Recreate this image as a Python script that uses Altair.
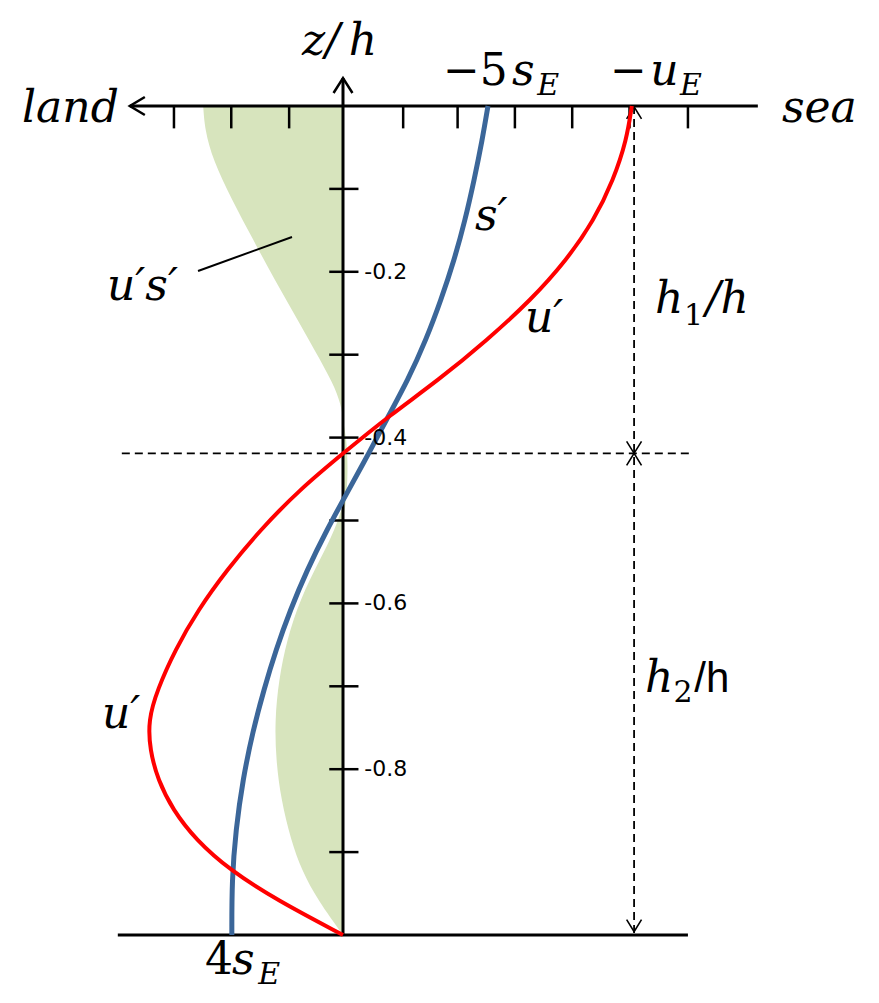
import altair as alt
import pandas as pd

# ---------------- data (chart units) ----------------
# vertical coordinate z/h, horizontal coordinate in tick units (1 unit = 1 tick spacing)
Z_RED = [0, -0.041, -0.089, -0.138, -0.186, -0.234, -0.282, -0.331, -0.373, -0.419,
         -0.463, -0.511, -0.560, -0.608, -0.656, -0.704, -0.741, -0.777, -0.813,
         -0.849, -0.885, -0.922, -0.958, -1.0]
U_RED = [5.04, 4.95, 4.72, 4.38, 3.90, 3.28, 2.52, 1.66, 0.82, 0.0,
         -0.76, -1.44, -2.03, -2.53, -2.93, -3.24, -3.40, -3.37, -3.23,
         -2.97, -2.57, -1.97, -1.15, 0.0]

Z_BLUE = [0, -0.041, -0.089, -0.138, -0.186, -0.234, -0.282, -0.331, -0.373, -0.419,
          -0.463, -0.511, -0.560, -0.608, -0.656, -0.704, -0.753, -0.813, -0.873,
          -0.934, -1.0]
S_BLUE = [2.53, 2.43, 2.29, 2.13, 1.94, 1.71, 1.45, 1.13, 0.80, 0.45,
          0.10, -0.28, -0.63, -0.92, -1.17, -1.38, -1.57, -1.75, -1.87,
          -1.94, -1.94]

Z_US_UP = [0, -0.029, -0.065, -0.113, -0.161, -0.210, -0.258, -0.306, -0.342, -0.366, -0.378]
X_US_UP = [-2.44, -2.41, -2.27, -1.94, -1.57, -1.19, -0.79, -0.40, -0.12, -0.02, 0.0]

Z_US_MID = [-0.38, -0.40, -0.44, -0.48, -0.50]
X_US_MID = [0.0, 0.06, 0.09, 0.05, 0.0]

Z_US_LOW = [-0.481, -0.511, -0.547, -0.595, -0.644, -0.692, -0.741, -0.789, -0.837,
            -0.885, -0.922, -0.958, -1.0]
X_US_LOW = [0.0, -0.14, -0.40, -0.75, -0.98, -1.12, -1.19, -1.17, -1.08,
            -0.91, -0.72, -0.44, 0.0]

TOP_TICKS = [-2.95, -1.95, -0.94, 1.05, 2.0, 3.0, 4.0, 5.0, 6.02]
Z_TICKS = [-0.1, -0.2, -0.3, -0.4, -0.5, -0.6, -0.7, -0.8, -0.9]
Z_TICK_LABELS = ["-0.2", "-0.4", "-0.6", "-0.8"]
Z_TICK_LABEL_POS = [-0.2, -0.4, -0.6, -0.8]
H1 = 0.419  # interface depth

# ---------------- scales ----------------
XMIN, XMAX = -5.8464, 9.2147
ZMIN, ZMAX = -1.07238, 0.11821
XS = alt.Scale(domain=[XMIN, XMAX], nice=False, zero=False)
YS = alt.Scale(domain=[ZMIN, ZMAX], nice=False, zero=False)


def X(f="x"):
    return alt.X(f"{f}:Q", scale=XS, axis=None)


def Y(f="z"):
    return alt.Y(f"{f}:Q", scale=YS, axis=None)


GREEN = "#D7E4BD"
RED = "#FF0000"
BLUE = "#3B6699"

# ---------------- shaded u's' areas ----------------
def area_df(zs, xs):
    return pd.DataFrame({"z": zs, "x": xs, "x0": [0.0] * len(zs)})


areas = [
    alt.Chart(area_df(zs, xs)).mark_area(orient="horizontal", interpolate="basis",
                                          color=GREEN, opacity=1)
    .encode(y=Y(), x=X(), x2="x0:Q")
    for zs, xs in [(Z_US_UP, X_US_UP), (Z_US_MID, X_US_MID), (Z_US_LOW, X_US_LOW)]
]

# ---------------- axes, ticks, dimension lines ----------------
axes_df = pd.DataFrame({
    "x": [-3.72, -3.93, 0.0],
    "x2": [7.24, 6.02, 0.0],
    "z": [0.0, -1.0, -1.0],
    "z2": [0.0, -1.0, 0.0338],
})
axes = alt.Chart(axes_df).mark_rule(color="black", strokeWidth=3).encode(
    x=X(), x2="x2:Q", y=Y(), y2="z2:Q")

tick_rows = [{"x": t, "x2": t, "z": 0.0, "z2": -0.027} for t in TOP_TICKS]
tick_rows += [{"x": -0.24, "x2": 0.27, "z": z, "z2": z} for z in Z_TICKS]
ticks = alt.Chart(pd.DataFrame(tick_rows)).mark_rule(color="black", strokeWidth=2.5).encode(
    x=X(), x2="x2:Q", y=Y(), y2="z2:Q")

leader = alt.Chart(pd.DataFrame({"x": [-2.53], "x2": [-0.89], "z": [-0.199], "z2": [-0.158]})) \
    .mark_rule(color="black", strokeWidth=2).encode(x=X(), x2="x2:Q", y=Y(), y2="z2:Q")

dash_df = pd.DataFrame({
    "x": [-3.86, 5.08],
    "x2": [6.11, 5.08],
    "z": [-H1, 0.0],
    "z2": [-H1, -1.0],
})
dashed = alt.Chart(dash_df).mark_rule(color="black", strokeWidth=1.8, strokeDash=[8, 5]).encode(
    x=X(), x2="x2:Q", y=Y(), y2="z2:Q")

# arrow heads (open chevrons)
UP_BIG = "M-0.63,1L0,0L0.63,1"
LEFT_BIG = "M1,-0.6L0,0L1,0.6"
UP_SMALL = "M-0.62,1L0,0L0.62,1"
DOWN_SMALL = "M-0.62,-1L0,0L0.62,-1"
heads_df = pd.DataFrame({
    "x": [0.0, -3.72, 5.08, 5.08, 5.08, 5.08],
    "z": [0.0338, 0.0, -0.001, -H1, -H1, -0.996],
    "shape": [UP_BIG, LEFT_BIG, UP_SMALL, DOWN_SMALL, UP_SMALL, DOWN_SMALL],
    "size": [900, 900, 576, 576, 576, 576],
    "sw": [2.5, 2.5, 1.6, 1.6, 1.6, 1.6],
})
heads = alt.Chart(heads_df).mark_point(filled=False, color="black", opacity=1).encode(
    x=X(), y=Y(),
    shape=alt.Shape("shape:N", scale=None),
    size=alt.Size("size:Q", scale=None),
    strokeWidth=alt.StrokeWidth("sw:Q", scale=None),
)

# ---------------- profiles ----------------
blue_df = pd.DataFrame({"z": Z_BLUE, "x": S_BLUE, "i": range(len(Z_BLUE))})
blue = alt.Chart(blue_df).mark_line(color=BLUE, strokeWidth=5, interpolate="basis").encode(
    x=X(), y=Y(), order="i:Q")

red_df = pd.DataFrame({"z": Z_RED, "x": U_RED, "i": range(len(Z_RED))})
red = alt.Chart(red_df).mark_line(color=RED, strokeWidth=4, interpolate="basis").encode(
    x=X(), y=Y(), order="i:Q")

# ---------------- text ----------------
ANNOT = [
    # text, x, z, size, style, family
    ("land", -5.602, -0.0193, 44, "italic", "serif"),
    ("sea", 7.661, -0.0193, 44, "italic", "serif"),
    ("z/\u2009h", -0.716, 0.0615, 44, "italic", "serif"),
    ("\u22125", 1.745, 0.0253, 44, "normal", "serif"),
    ("s", 2.950, 0.0253, 44, "italic", "serif"),
    ("E", 3.390, 0.0133, 30, "italic", "serif"),
    ("\u2212", 4.660, 0.0253, 44, "normal", "serif"),
    ("u", 5.360, 0.0253, 44, "italic", "serif"),
    ("E", 5.880, 0.0133, 30, "italic", "serif"),
    ("s\u2032", 2.304, -0.1496, 44, "italic", "serif"),
    ("u\u2032", 3.176, -0.2726, 44, "italic", "serif"),
    ("h", 5.445, -0.2497, 44, "italic", "serif"),
    ("1", 5.950, -0.2642, 30, "normal", "serif"),
    ("/h", 6.330, -0.2497, 44, "italic", "serif"),
    ("u\u2032s\u2032", -4.119, -0.2340, 44, "italic", "serif"),
    ("u\u2032", -4.206, -0.7503, 44, "italic", "serif"),
    ("h", 5.271, -0.7069, 44, "italic", "serif"),
    ("2", 5.770, -0.7189, 30, "normal", "serif"),
    ("/h", 6.130, -0.7069, 42, "normal", "sans"),
    ("4", -2.408, -1.0470, 44, "normal", "serif"),
    ("s", -1.937, -1.0470, 44, "italic", "serif"),
    ("E", -1.480, -1.0590, 30, "italic", "serif"),
]
ann_df = pd.DataFrame(ANNOT, columns=["text", "x", "z", "size", "style", "family"])

FONTS = {"serif": "DejaVu Serif", "sans": "Liberation Sans"}
texts = []
for (style, fam), sub in ann_df.groupby(["style", "family"]):
    texts.append(
        alt.Chart(sub).mark_text(align="left", baseline="alphabetic", font=FONTS[fam],
                                 fontStyle=style, color="black")
        .encode(x=X(), y=Y(), text="text:N", size=alt.Size("size:Q", scale=None))
    )

tl_df = pd.DataFrame({"text": Z_TICK_LABELS, "z": Z_TICK_LABEL_POS, "x": [0.37] * 4})
tick_labels = alt.Chart(tl_df).mark_text(align="left", baseline="middle", font="DejaVu Sans",
                                         fontSize=22, color="black").encode(
    x=X(), y=Y(), text="text:N")

chart = alt.layer(
    *areas, axes, ticks, dashed, leader, heads, blue, red, tick_labels, *texts
).properties(
    width=863, height=987, padding=0,
    autosize=alt.AutoSizeParams(type="none"),
).configure_view(stroke=None)

chart.save("out.html", embed_options={"renderer": "svg", "actions": False})
